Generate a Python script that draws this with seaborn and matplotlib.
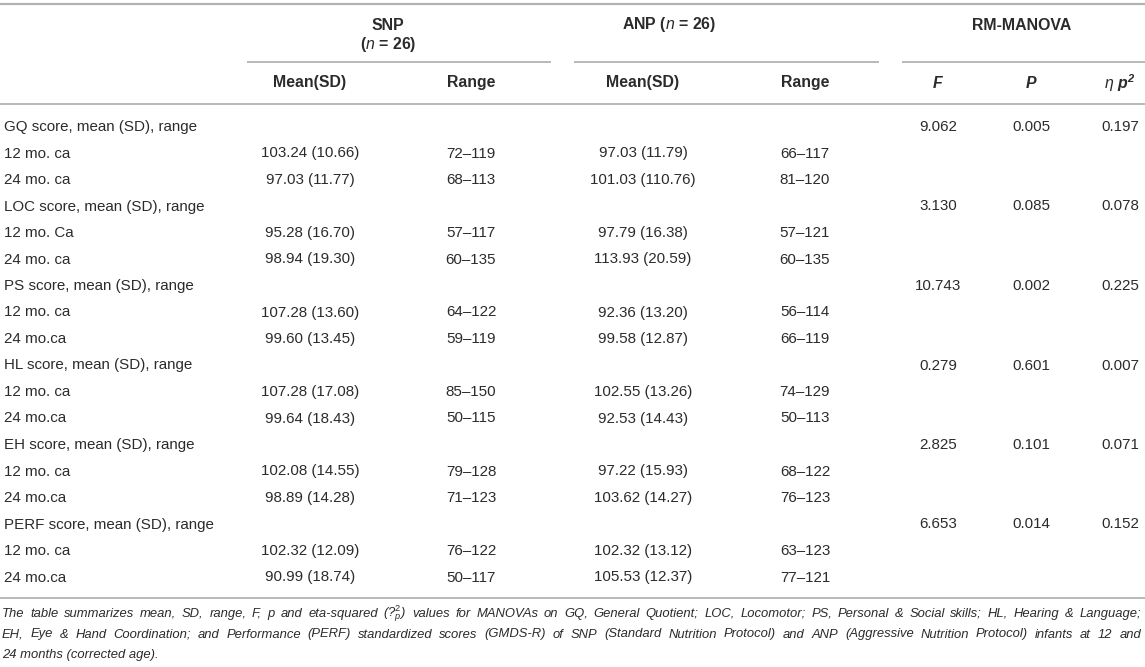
import pandas as pd
import seaborn as sns
import matplotlib.pyplot as plt

sns.set_theme(style="white")
plt.rcParams["font.family"] = ["Liberation Sans", "DejaVu Sans"]
plt.rcParams["mathtext.fontset"] = "custom"
plt.rcParams["mathtext.rm"] = "Liberation Sans"
plt.rcParams["mathtext.it"] = "Liberation Sans:italic"
plt.rcParams["mathtext.bf"] = "Liberation Sans:bold:italic"

# ---------------------------------------------------------
# table values
# ---------------------------------------------------------
measures = ["GQ", "LOC", "PS", "HL", "EH", "PERF"]
age_12 = ["12 mo. ca", "12 mo. Ca", "12 mo. ca", "12 mo. ca", "12 mo. ca", "12 mo. ca"]
age_24 = ["24 mo. ca", "24 mo. ca", "24 mo.ca", "24 mo.ca", "24 mo.ca", "24 mo.ca"]

snp_mean_12 = ["103.24 (10.66)", "95.28 (16.70)", "107.28 (13.60)", "107.28 (17.08)", "102.08 (14.55)", "102.32 (12.09)"]
snp_mean_24 = ["97.03 (11.77)", "98.94 (19.30)", "99.60 (13.45)", "99.64 (18.43)", "98.89 (14.28)", "90.99 (18.74)"]
snp_range_12 = ["72–119", "57–117", "64–122", "85–150", "79–128", "76–122"]
snp_range_24 = ["68–113", "60–135", "59–119", "50–115", "71–123", "50–117"]

anp_mean_12 = ["97.03 (11.79)", "97.79 (16.38)", "92.36 (13.20)", "102.55 (13.26)", "97.22 (15.93)", "102.32 (13.12)"]
anp_mean_24 = ["101.03 (110.76)", "113.93 (20.59)", "99.58 (12.87)", "92.53 (14.43)", "103.62 (14.27)", "105.53 (12.37)"]
anp_range_12 = ["66–117", "57–121", "56–114", "74–129", "68–122", "63–123"]
anp_range_24 = ["81–120", "60–135", "66–119", "50–113", "76–123", "77–121"]

f_vals = ["9.062", "3.130", "10.743", "0.279", "2.825", "6.653"]
p_vals = ["0.005", "0.085", "0.002", "0.601", "0.101", "0.014"]
eta_vals = ["0.197", "0.078", "0.225", "0.007", "0.071", "0.152"]

footnote = [
    r"The table summarizes mean, SD, range, F, p and eta-squared (?$^{2}_{p}$) values for MANOVAs on GQ, General Quotient; "
    "LOC, Locomotor; PS, Personal & Social skills; HL, Hearing & Language;",
    "EH, Eye & Hand Coordination; and Performance (PERF) standardized scores (GMDS-R) of SNP (Standard Nutrition "
    "Protocol) and ANP (Aggressive Nutrition Protocol) infants at 12 and",
    "24 months (corrected age).",
]

# build the body rows
rows = []
for i, m in enumerate(measures):
    rows.append([f"{m} score, mean (SD), range", "", "", "", "", f_vals[i], p_vals[i], eta_vals[i]])
    rows.append([age_12[i], snp_mean_12[i], snp_range_12[i], anp_mean_12[i], anp_range_12[i], "", "", ""])
    rows.append([age_24[i], snp_mean_24[i], snp_range_24[i], anp_mean_24[i], anp_range_24[i], "", "", ""])
df = pd.DataFrame(rows, columns=["label", "snp_m", "snp_r", "anp_m", "anp_r", "F", "P", "eta"])

# ---------------------------------------------------------
# drawing (axes in pixel units of the 1145x667 picture)
# ---------------------------------------------------------
W, H = 1145, 667
fig = plt.figure(figsize=(W / 100, H / 100), dpi=100)
ax = fig.add_axes([0, 0, 1, 1])
ax.set_xlim(0, W)
ax.set_ylim(H, 0)
ax.axis("off")

txt = "#2b2b2b"
rule = "#b3b3b3"
fs = 10.9      # body
hfs = 11.4     # header
nfs = 9.4      # footnote

col_x = {"snp_m": 310, "snp_r": 471, "anp_m": 643, "anp_r": 805, "F": 938, "P": 1031, "eta": 1120}

# rules
ax.plot([0, W], [4, 4], color=rule, lw=1.6, solid_capstyle="butt")
ax.plot([0, W], [103.5, 103.5], color=rule, lw=1.3, solid_capstyle="butt")
ax.plot([0, W], [597.5, 597.5], color=rule, lw=1.3, solid_capstyle="butt")
for x0, x1 in [(247, 551), (574, 879), (902, W)]:
    ax.plot([x0, x1], [62, 62], color=rule, lw=1.3, solid_capstyle="butt")

# group headers
ax.text(388, 25, "SNP", ha="center", va="center", fontsize=hfs, fontweight="bold", color=txt)
ax.text(388, 45, r"($\mathit{n}$ = 26)", ha="center", va="center", fontsize=hfs, fontweight="bold", color=txt)
ax.text(669, 25, r"ANP ($\mathit{n}$ = 26)", ha="center", va="center", fontsize=hfs, fontweight="bold", color=txt)
ax.text(1022, 25, "RM-MANOVA", ha="center", va="center", fontsize=hfs, fontweight="bold", color=txt)

# sub headers
for key, lab in [("snp_m", "Mean(SD)"), ("snp_r", "Range"), ("anp_m", "Mean(SD)"), ("anp_r", "Range")]:
    ax.text(col_x[key], 83, lab, ha="center", va="center", fontsize=hfs, fontweight="bold", color=txt)
ax.text(col_x["F"], 83, "F", ha="center", va="center", fontsize=hfs, fontweight="bold", fontstyle="italic", color=txt)
ax.text(col_x["P"], 83, "P", ha="center", va="center", fontsize=hfs, fontweight="bold", fontstyle="italic", color=txt)
ax.text(col_x["eta"], 83, r"$\eta\ \mathbf{p}^{\mathbf{2}}$", ha="center", va="center", fontsize=hfs, color=txt)

# body
y0, pitch = 127, 26.5
for r, row in df.iterrows():
    y = y0 + r * pitch
    ax.text(4, y, row["label"], ha="left", va="center", fontsize=fs, color=txt)
    for key in col_x:
        if row[key]:
            ax.text(col_x[key], y, row[key], ha="center", va="center", fontsize=fs, color=txt)

# footnote, first two lines justified to the table width
fig.canvas.draw()
renderer = fig.canvas.get_renderer()
left, right = 2, 1141
for k, line in enumerate(footnote):
    y = 614 + k * 20.5
    if k == len(footnote) - 1:
        ax.text(left, y, line, ha="left", va="center", fontsize=nfs, fontstyle="italic", color=txt)
        continue
    words = line.split(" ")
    items = [ax.text(0, y, w, ha="left", va="center", fontsize=nfs, fontstyle="italic", color=txt) for w in words]
    widths = [t.get_window_extent(renderer).width for t in items]
    gap = (right - left - sum(widths)) / (len(words) - 1)
    x = left
    for t, w in zip(items, widths):
        t.set_x(x)
        x += w + gap

fig.savefig("out.png", dpi=100)
